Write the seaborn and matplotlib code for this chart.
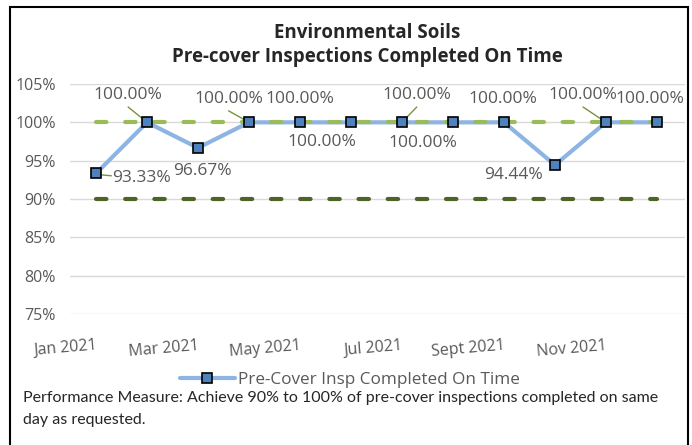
import matplotlib.pyplot as plt
import matplotlib.patches as patches
from matplotlib.lines import Line2D
import pandas as pd
import seaborn as sns

months = ['Jan 2021', 'Feb 2021', 'Mar 2021', 'Apr 2021', 'May 2021', 'Jun 2021',
          'Jul 2021', 'Aug 2021', 'Sept 2021', 'Oct 2021', 'Nov 2021', 'Dec 2021']
on_time = [93.33, 100.00, 96.67, 100.00, 100.00, 100.00,
           100.00, 100.00, 100.00, 94.44, 100.00, 100.00]
upper_target = [100] * 12
lower_target = [90] * 12
y_ticks = [75, 80, 85, 90, 95, 100, 105]

# where each data label sits (x in months, y in %)
label_pos = [(0.9, 92.7), (0.63, 103.5), (2.09, 93.7), (2.6, 103.0), (4.0, 103.0), (4.43, 97.4),
             (6.29, 103.5), (6.4, 97.3), (7.98, 103.0), (8.18, 93.1), (9.55, 103.5), (10.86, 103.0)]
leaders = [0, 1, 3, 6, 10]

df = pd.DataFrame({'idx': range(len(months)), 'month': months, 'value': on_time,
                   'upper': upper_target, 'lower': lower_target})

sns.set_style('white')
plt.rcParams['font.family'] = ['Open Sans', 'DejaVu Sans']

fig = plt.figure(figsize=(6.92, 4.45), dpi=100)
ax = fig.add_axes([70 / 692, 1 - 314 / 445, 615 / 692, 230 / 445])

line_c = '#8DB4E2'
marker_c = '#4F81BD'
sns.lineplot(data=df, x='idx', y='value', ax=ax, color=line_c, linewidth=3, zorder=2)
ax.plot(df['idx'], df['upper'], color='#9BBB59', lw=3, dashes=(2.5, 4.5),
        dash_capstyle='round', zorder=3)
ax.plot(df['idx'], df['lower'], color='#4F6228', lw=3, dashes=(2.5, 4.5),
        dash_capstyle='round', zorder=3)
ax.plot(df['idx'], df['value'], ls='none', marker='s', ms=7, mfc=marker_c,
        mec='black', mew=1.2, zorder=4)

for i, (v, (lx, ly)) in enumerate(zip(on_time, label_pos)):
    ax.text(lx, ly, f'{v:.2f}%', ha='center', va='center', fontsize=12.5,
            color='#595959', zorder=5)
    if i in leaders:
        if i == 0:
            ax.plot([i + 0.05, i + 0.3], [v - 0.15, v - 0.3], color='#77933C', lw=1, zorder=3)
        else:
            ax.plot([lx, i], [ly - 1.5, v], color='#77933C', lw=1, zorder=3)

ax.set_xlim(-0.51, 11.55)
ax.set_ylim(75, 105)
ax.set_yticks(y_ticks)
ax.set_yticklabels([f'{t}%' for t in y_ticks], fontsize=11.5, color='#595959')
ax.set_xticks(df['idx'][::2])
ax.set_xticklabels(df['month'][::2], rotation=5, ha='right', rotation_mode='anchor',
                   fontsize=11.5, color='#595959')
ax.tick_params(axis='y', length=0, pad=10)
ax.tick_params(axis='x', length=0, pad=17)
ax.grid(axis='y', color='#D9D9D9', lw=1)
ax.set_axisbelow(True)
for s in ax.spines.values():
    s.set_visible(False)
ax.set_xlabel('')
ax.set_ylabel('')

fig.text(367 / 692, 1 - 33 / 445, 'Environmental Soils', ha='center', va='center',
         fontsize=13.5, fontweight='bold')
fig.text(367 / 692, 1 - 57 / 445, 'Pre-cover Inspections Completed On Time', ha='center',
         va='center', fontsize=13.5, fontweight='bold')

handle = Line2D([], [], color=line_c, lw=3, marker='s', ms=6.5, mfc=marker_c, mec='black', mew=1.2)
fig.legend([handle], ['Pre-Cover Insp Completed On Time'], loc='center',
           bbox_to_anchor=(350 / 692, 1 - 380 / 445), frameon=False, fontsize=12.3,
           labelcolor='#595959', handlelength=3.2, handletextpad=0.2)

fig.text(23 / 692, 1 - 398 / 445,
         'Performance Measure: Achieve 90% to 100% of pre-cover inspections completed on same',
         ha='left', va='center', fontsize=11.5, family=['Lato', 'DejaVu Sans'])
fig.text(23 / 692, 1 - 420 / 445, 'day as requested.', ha='left', va='center',
         fontsize=11.5, family=['Lato', 'DejaVu Sans'])

fig.patches.append(patches.Rectangle((10 / 692, -0.05), 678 / 692, 1.05 - 7 / 445,
                                     transform=fig.transFigure, fill=False,
                                     edgecolor='black', lw=1.5))

fig.savefig('out.png', dpi=100)
